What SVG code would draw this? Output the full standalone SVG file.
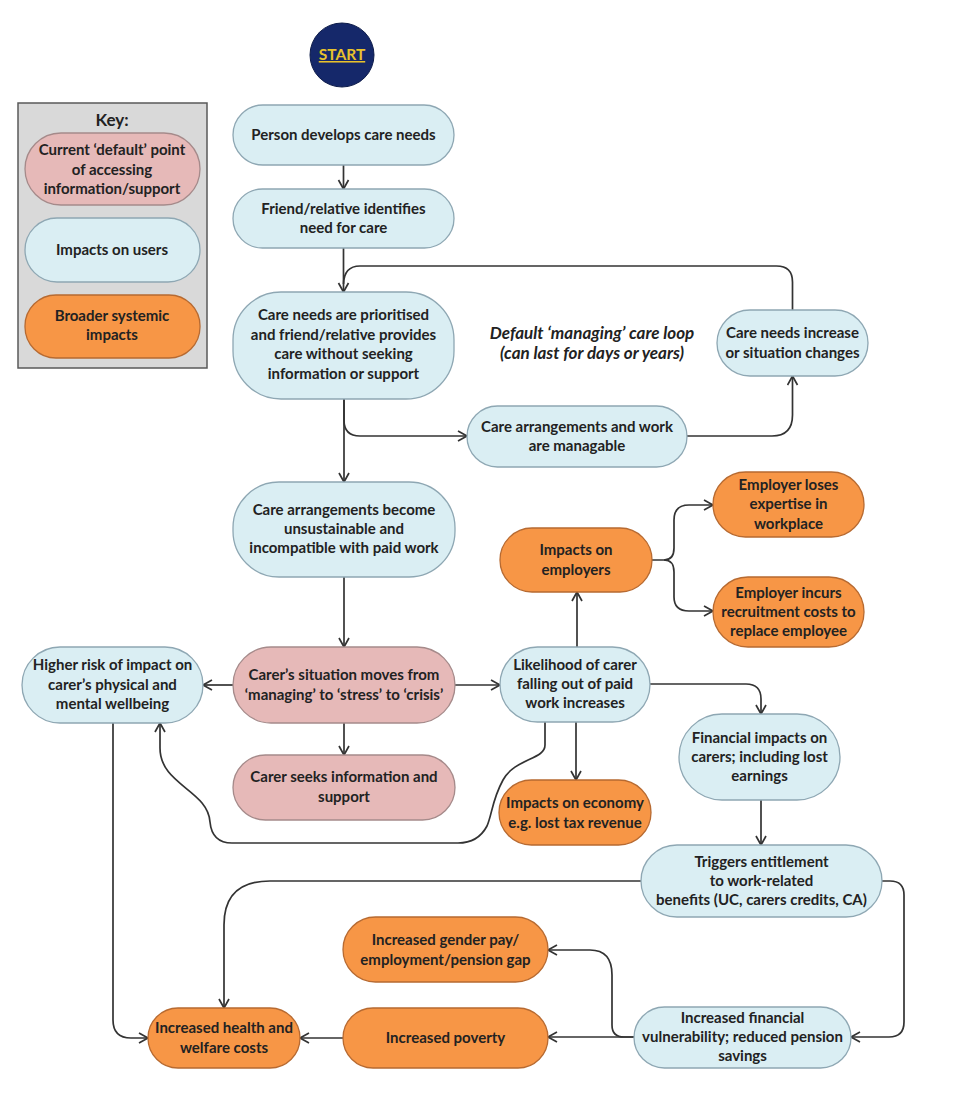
<svg xmlns="http://www.w3.org/2000/svg" width="958" height="1116" viewBox="0 0 958 1116">
<style>
.blue{fill:#daeef3;stroke:#8ea7b3;stroke-width:1.3}
.pink{fill:#e6b9b8;stroke:#a58a8a;stroke-width:1.3}
.orange{fill:#f79646;stroke:#b76a31;stroke-width:1.3}
.t{font-family:Lato,"Liberation Sans",sans-serif;font-weight:bold;font-size:15px;text-anchor:middle;fill:#222}
.it{font-family:Lato,"Liberation Sans",sans-serif;font-weight:bold;font-style:italic;font-size:17px;text-anchor:middle;fill:#222}
.c{fill:none;stroke:#333;stroke-width:1.7}
.a{marker-end:url(#arr)}
</style>
<defs>
<marker id="arr" markerUnits="userSpaceOnUse" markerWidth="14" markerHeight="14" refX="10" refY="6" orient="auto" viewBox="0 0 14 14">
<path d="M1,1 L10,6 L1,11" fill="none" stroke="#333" stroke-width="1.7"/>
</marker>
</defs>
<rect width="958" height="1116" fill="#fff"/>

<g id="key">
<rect x="18" y="103" width="189" height="265" fill="#d9d9d9" stroke="#595959" stroke-width="1.5"/>
<text class="t" x="112" y="126" style="font-size:17px">Key:</text>
<rect class="pink" x="25" y="133" width="175" height="72" rx="36"/>
<text class="t" x="112" y="155">Current ‘default’ point</text>
<text class="t" x="112" y="175">of accessing</text>
<text class="t" x="112" y="194">information/support</text>
<rect class="blue" x="25" y="218" width="175" height="64" rx="32"/>
<text class="t" x="112" y="255">Impacts on users</text>
<rect class="orange" x="25" y="295" width="175" height="63" rx="31"/>
<text class="t" x="112" y="321">Broader systemic</text>
<text class="t" x="112" y="340">impacts</text>
</g>

<g id="connectors">
<path class="c a" d="M343.5,165 V189"/>
<path class="c a" d="M343.5,248 V292"/>
<path class="c" d="M792.5,310 V282 Q792.5,266 776.5,266 H360 Q344,266 343.5,284"/>
<path class="c a" d="M344,399 V420 Q344,436 360,436 H467"/>
<path class="c a" d="M344,399 V482"/>
<path class="c a" d="M687,436 H772 Q792.5,436 792.5,415 V376"/>
<path class="c a" d="M344,577 V647"/>
<path class="c a" d="M233,685 H203"/>
<path class="c a" d="M455,685 H500"/>
<path class="c a" d="M344,723 V755"/>
<path class="c a" d="M577,647 V592"/>
<path class="c a" d="M576,722 V780"/>
<path class="c a" d="M652,560 H664 Q674,560 674,548 V520 Q674,505 689,505 H713"/>
<path class="c a" d="M664,560 Q674,560 674,572 V597 Q674,611 689,611 H713"/>
<path class="c a" d="M650,684 H746 Q761,684 761,699 V714"/>
<path class="c a" d="M761,800 V845"/>
<path class="c a" d="M545,722 V745 C545,760 515,758 503,780 C492,800 492,815 487,826 Q478,843 458,843 H232 Q212,843 210,822 C208,790 160,785 160,748 V723"/>
<path class="c a" d="M113,723 V1020 Q113,1038 131,1038 H148"/>
<path class="c a" d="M641,881 H270 Q224,881 224,925 V1008"/>
<path class="c a" d="M882,881 H890 Q904,881 904,895 V1022 Q904,1037 889,1037 H851"/>
<path class="c a" d="M634,1037 H548"/>
<path class="c a" d="M634,1037 H624 Q612,1037 612,1025 V975 Q612,950 590,950 H548"/>
<path class="c a" d="M343,1038 H300"/>
</g>

<g id="start">
<circle cx="342" cy="55" r="32" fill="#15286a" stroke="#0e1c4a" stroke-width="1"/>
<text x="342" y="60" style="font-family:Lato,'Liberation Sans',sans-serif;font-weight:bold;font-size:15.5px;text-anchor:middle;fill:#e8c22c;text-decoration:underline">START</text>
</g>

<g id="n_person">
<rect class="blue" x="233" y="105" width="221" height="60" rx="30"/>
<text class="t" x="343.5" y="140">Person develops care needs</text>
</g>
<g id="n_friend">
<rect class="blue" x="233" y="189" width="221" height="59" rx="29.5"/>
<text class="t" x="343.5" y="214">Friend/relative identifies</text>
<text class="t" x="343.5" y="233">need for care</text>
</g>
<g id="n_prior">
<rect class="blue" x="233" y="292" width="221" height="107" rx="48"/>
<text class="t" x="343.5" y="320">Care needs are prioritised</text>
<text class="t" x="343.5" y="340">and friend/relative provides</text>
<text class="t" x="343.5" y="359">care without seeking</text>
<text class="t" x="343.5" y="379">information or support</text>
</g>
<g id="loop_label">
<text class="it" x="592" y="339">Default ‘managing’ care loop</text>
<text class="it" x="592" y="359">(can last for days or years)</text>
</g>
<g id="n_increase">
<rect class="blue" x="717" y="310" width="151" height="66" rx="33"/>
<text class="t" x="792.5" y="338">Care needs increase</text>
<text class="t" x="792.5" y="358">or situation changes</text>
</g>
<g id="n_manag">
<rect class="blue" x="467" y="406" width="220" height="61" rx="30.5"/>
<text class="t" x="577" y="432">Care arrangements and work</text>
<text class="t" x="577" y="451">are managable</text>
</g>
<g id="n_unsust">
<rect class="blue" x="233" y="482" width="222" height="95" rx="46"/>
<text class="t" x="344" y="515">Care arrangements become</text>
<text class="t" x="344" y="534">unsustainable and</text>
<text class="t" x="344" y="553">incompatible with paid work</text>
</g>
<g id="n_employers">
<rect class="orange" x="500" y="528" width="152" height="64" rx="32"/>
<text class="t" x="576" y="555">Impacts on</text>
<text class="t" x="576" y="575">employers</text>
</g>
<g id="n_expertise">
<rect class="orange" x="713" y="472" width="151" height="65" rx="32.5"/>
<text class="t" x="788.5" y="490">Employer loses</text>
<text class="t" x="788.5" y="509">expertise in</text>
<text class="t" x="788.5" y="529">workplace</text>
</g>
<g id="n_recruit">
<rect class="orange" x="713" y="577" width="151" height="70" rx="35"/>
<text class="t" x="788.5" y="598">Employer incurs</text>
<text class="t" x="788.5" y="617">recruitment costs to</text>
<text class="t" x="788.5" y="636">replace employee</text>
</g>
<g id="n_carer">
<rect class="pink" x="233" y="647" width="222" height="76" rx="38"/>
<text class="t" x="344" y="680">Carer’s situation moves from</text>
<text class="t" x="344" y="700">‘managing’ to ‘stress’ to ‘crisis’</text>
</g>
<g id="n_higher">
<rect class="blue" x="22" y="647" width="181" height="76" rx="38"/>
<text class="t" x="112.5" y="670">Higher risk of impact on</text>
<text class="t" x="112.5" y="690">carer’s physical and</text>
<text class="t" x="112.5" y="709">mental wellbeing</text>
</g>
<g id="n_seeks">
<rect class="pink" x="233" y="755" width="222" height="65" rx="32.5"/>
<text class="t" x="344" y="782">Carer seeks information and</text>
<text class="t" x="344" y="802">support</text>
</g>
<g id="n_likely">
<rect class="blue" x="500" y="647" width="150" height="75" rx="37.5"/>
<text class="t" x="575" y="670">Likelihood of carer</text>
<text class="t" x="575" y="689">falling out of paid</text>
<text class="t" x="575" y="708">work increases</text>
</g>
<g id="n_economy">
<rect class="orange" x="499" y="780" width="152" height="65" rx="32.5"/>
<text class="t" x="575" y="808">Impacts on economy</text>
<text class="t" x="575" y="828">e.g. lost tax revenue</text>
</g>
<g id="n_financial">
<rect class="blue" x="679" y="714" width="161" height="86" rx="43"/>
<text class="t" x="759.5" y="743">Financial impacts on</text>
<text class="t" x="759.5" y="762">carers; including lost</text>
<text class="t" x="759.5" y="781">earnings</text>
</g>
<g id="n_triggers">
<rect class="blue" x="641" y="845" width="241" height="72" rx="36"/>
<text class="t" x="761.5" y="867">Triggers entitlement</text>
<text class="t" x="761.5" y="886">to work-related</text>
<text class="t" x="761.5" y="905">benefits (UC, carers credits, CA)</text>
</g>
<g id="n_vuln">
<rect class="blue" x="634" y="1007" width="217" height="61" rx="30.5"/>
<text class="t" x="742.5" y="1023">Increased financial</text>
<text class="t" x="742.5" y="1042">vulnerability; reduced pension</text>
<text class="t" x="742.5" y="1061">savings</text>
</g>
<g id="n_gender">
<rect class="orange" x="343" y="917" width="205" height="65" rx="32.5"/>
<text class="t" x="445.5" y="945">Increased gender pay/</text>
<text class="t" x="445.5" y="965">employment/pension gap</text>
</g>
<g id="n_poverty">
<rect class="orange" x="343" y="1008" width="205" height="60" rx="30"/>
<text class="t" x="445.5" y="1043">Increased poverty</text>
</g>
<g id="n_health">
<rect class="orange" x="148" y="1008" width="152" height="60" rx="30"/>
<text class="t" x="224" y="1033">Increased health and</text>
<text class="t" x="224" y="1053">welfare costs</text>
</g>
</svg>
